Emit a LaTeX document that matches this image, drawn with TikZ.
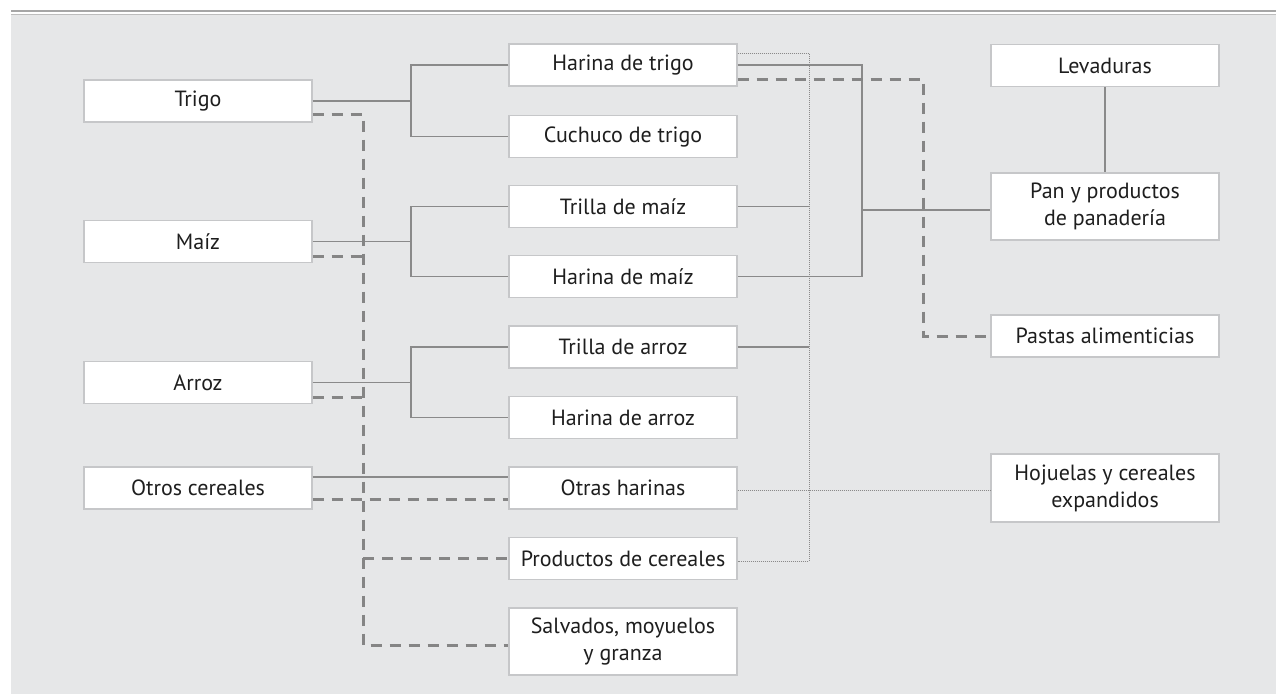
\documentclass[tikz,border=0pt]{standalone}
\usepackage{fontspec}
\setmainfont{PT Sans}
\usetikzlibrary{calc}
\definecolor{bgc}{HTML}{E6E7E8}
\definecolor{boxc}{HTML}{C6C7C9}
\definecolor{linec}{HTML}{8A8A8A}
\definecolor{dashc}{HTML}{858585}
\definecolor{txtc}{HTML}{1E1E1E}
\definecolor{topa}{HTML}{A6A6A6}
\definecolor{topb}{HTML}{BDBDBD}
\begin{document}
\begin{tikzpicture}[x=1pt,y=-1pt,
  box/.style={draw=boxc, fill=white, line width=1.4pt, minimum width=228pt, minimum height=42pt,
    inner sep=0pt, align=center, text=txtc, font=\fontsize{22}{27}\selectfont},
  tall/.style={box, minimum height=67pt},
  sol/.style={draw=linec, line width=1.1pt},
  dsh/.style={draw=dashc, line width=3pt, dash pattern=on 11pt off 8pt},
  dotl/.style={draw=linec, line width=0.9pt, dash pattern=on 1pt off 1pt}]
\useasboundingbox (0,0) rectangle (1276,694);
\fill[white] (0,0) rectangle (1276,694);
\fill[bgc] (11,15) rectangle (1276,694);
\fill[topa] (11,10) rectangle (1276,12);
\fill[topb] (11,13.5) rectangle (1276,15);
% left column
\node[box] (trigo) at (198,101) {Trigo};
\node[box] (maiz) at (198,241.5) {Maíz};
\node[box] (arroz) at (198,382.5) {Arroz};
\node[box] (otros) at (198,488) {Otros cereales};
% middle column
\node[box] (htrigo) at (623,65) {Harina de trigo};
\node[box] (cuchuco) at (623,136.5) {Cuchuco de trigo};
\node[box] (tmaiz) at (623,206.5) {Trilla de maíz};
\node[box] (hmaiz) at (623,276.5) {Harina de maíz};
\node[box] (tarroz) at (623,347) {Trilla de arroz};
\node[box] (harroz) at (623,417.5) {Harina de arroz};
\node[box] (otras) at (623,488) {Otras harinas};
\node[box] (prod) at (623,558.5) {Productos de cereales};
\node[tall] (salv) at (623,641.5) {Salvados, moyuelos\\y granza};
% right column
\node[box] (lev) at (1105,65.5) {Levaduras};
\node[tall] (pan) at (1105,206.5) {Pan y productos\\de panadería};
\node[box] (pastas) at (1105,336) {Pastas alimenticias};
\node[tall, minimum height=68pt] (hoj) at (1105,488) {Hojuelas y cereales\\expandidos};
% solid connectors
\draw[sol] (trigo.east) -- (411,101);
\draw[sol] (htrigo.west) -| (411,101) |- (cuchuco.west);
\draw[sol] (maiz.east) -- (411,241.5);
\draw[sol] (tmaiz.west) -| (411,241.5) |- (hmaiz.west);
\draw[sol] (arroz.east) -- (411,382.5);
\draw[sol] (tarroz.west) -| (411,382.5) |- (harroz.west);
\draw[sol] ([yshift=11pt]otros.east) -- ([yshift=11pt]otras.west);
\draw[sol] (htrigo.east) -- (862,65) -- (862,276.5) -- (hmaiz.east);
\draw[sol] (862,210) -- ([yshift=-3.5pt]pan.west);
\draw[sol] (tmaiz.east) -- (809,206.5);
\draw[sol] (tarroz.east) -- (809,347);
\draw[sol] (lev.south) -- (pan.north);
% dotted connectors
\draw[dotl] ([yshift=12pt]htrigo.east) -- (809,53) -- (809,561) -- ([yshift=-2.5pt]prod.east);
\draw[dotl] ([yshift=-2pt]otras.east) -- ([yshift=-2pt]hoj.west);
% dashed connectors
\draw[dsh] ([yshift=-13pt]trigo.east) -- (363,114) -- (363,645) -- ([yshift=-3.5pt]salv.west);
\draw[dsh] ([yshift=-14.5pt]maiz.east) -- (363,256);
\draw[dsh] ([yshift=-14.5pt]arroz.east) -- (363,397);
\draw[dsh] ([yshift=-11pt]otros.east) -- ([yshift=-11pt]otras.west);
\draw[dsh] (363,558.5) -- (prod.west);
\draw[dsh] ([yshift=-14pt]htrigo.east) -- (923,79) -- (923,336) -- (pastas.west);
\end{tikzpicture}
\end{document}
